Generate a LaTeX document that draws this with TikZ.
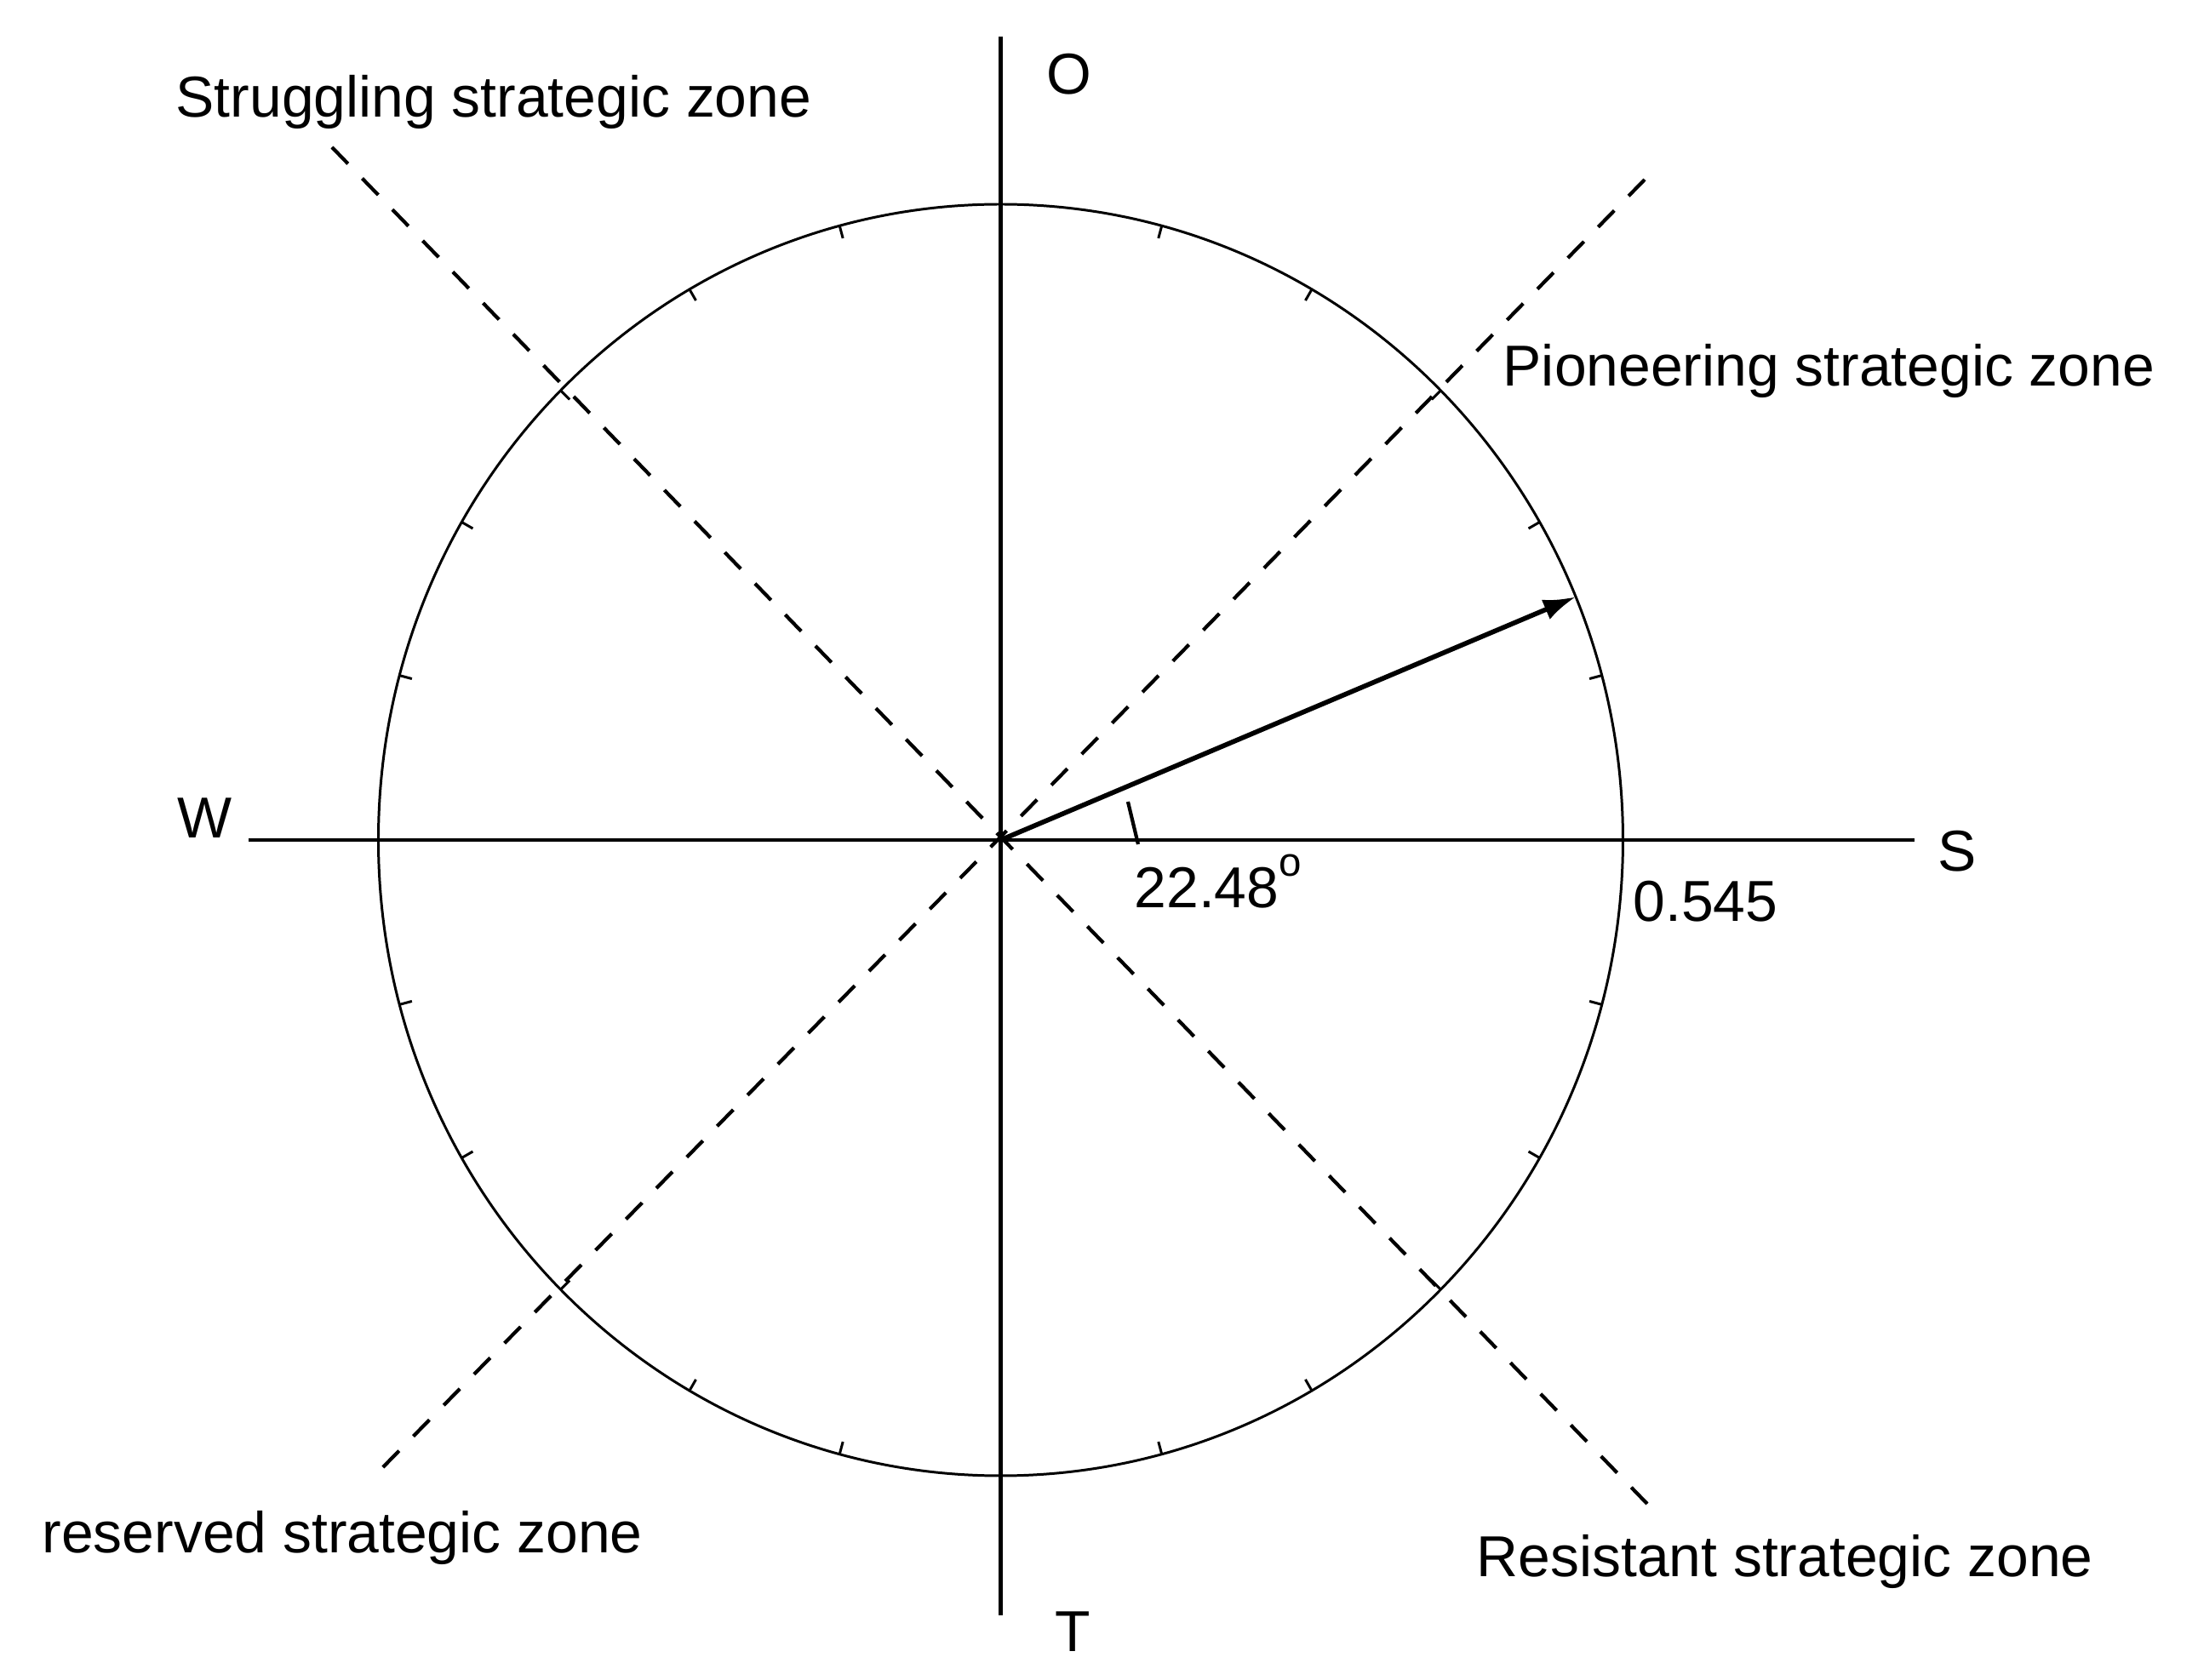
\documentclass[tikz,border=0pt]{standalone}
\usepackage{fontspec}
\setmainfont{Liberation Sans}
\usetikzlibrary{arrows.meta}
\tikzstyle{axis}=[line width=1.3pt]
\tikzstyle{zone}=[line width=1.2pt,dash pattern=on 2.7mm off 2.4mm]
\tikzstyle{tick}=[line width=0.85pt]
\tikzstyle{lbl}=[inner sep=0pt,anchor=base west,font=\fontsize{19.3}{23}\selectfont]

\begin{document}
\begin{tikzpicture}[>={Latex[length=3.8mm,width=2.5mm]}]
	\useasboundingbox (-11.755,-9.87) rectangle (14.065,9.87);
	\coordinate (c) at (0,0);
	% axes
	\coordinate (north) at (0,9.44);
	\coordinate (south) at (0,-9.11);
	\coordinate (west) at (-8.835,0);
	\coordinate (east) at (10.735,0);
	\draw[axis] (north) -- (south);
	\draw[axis] (west) -- (east);
	% circle and ticks
	\draw[tick] (c) ellipse [x radius=7.31, y radius=7.47];
	\foreach \a in {15,30,45,60,75,105,120,135,150,165,195,210,225,240,255,285,300,315,330,345}
		\draw[tick] (\a:7.31 and 7.47) -- (\a:7.16 and 7.32);
	% zone borders
	\coordinate (nw) at (-7.855,8.14);
	\coordinate (se) at (7.595,-7.80);
	\coordinate (ne) at (7.565,7.76);
	\coordinate (sw) at (-7.305,-7.42);
	\draw[zone] (nw) -- (se);
	\draw[zone] (ne) -- (sw);
	% strategy vector
	\coordinate (tip) at (22.48:7.31 and 7.47);
	\draw[->,line width=1.6pt] (c) -- (tip);
	\draw[line width=1.2pt] (1.615,-0.05) -- (1.495,0.45);
	% labels
	\node[lbl,anchor=base] (o) at (0.805,8.76) {O};
	\node[lbl,anchor=base] (t) at (0.845,-9.54) {T};
	\node[lbl,anchor=base] (w) at (-9.345,0.02) {W};
	\node[lbl] (s) at (11.005,-0.37) {S};
	\node[lbl] (r) at (7.425,-0.96) {0.545};
	\node[lbl] (ang) at (1.565,-0.80) {22.48\raisebox{0.3ex}{\textsuperscript{o}}};
	\node[lbl] (struggling) at (-9.695,8.49) {Struggling strategic zone};
	\node[lbl] (pioneering) at (5.895,5.33) {Pioneering strategic zone};
	\node[lbl] (reserved) at (-11.265,-8.38) {reserved strategic zone};
	\node[lbl] (resistant) at (5.585,-8.65) {Resistant strategic zone};
\end{tikzpicture}
\end{document}
